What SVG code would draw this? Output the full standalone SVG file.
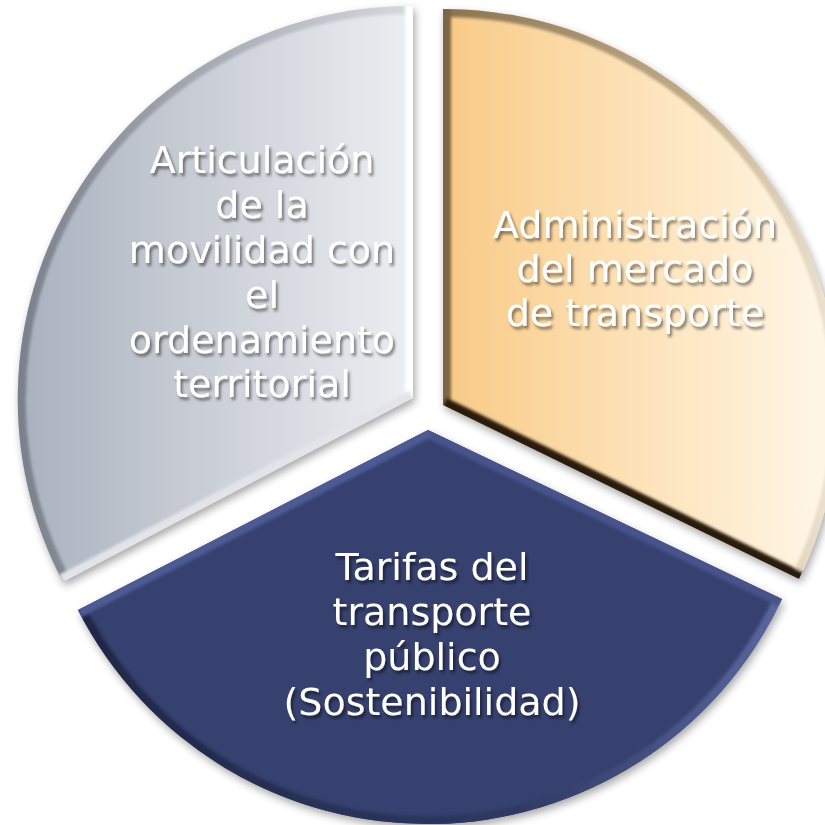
<svg xmlns="http://www.w3.org/2000/svg" width="825" height="825" viewBox="0 0 825 825">
  <defs>
    <linearGradient id="fillGray" gradientUnits="userSpaceOnUse" x1="20" y1="0" x2="413" y2="0">
      <stop offset="0" stop-color="#aab1be"/>
      <stop offset="0.55" stop-color="#cfd3da"/>
      <stop offset="1" stop-color="#eceef1"/>
    </linearGradient>
    <linearGradient id="fillOrange" gradientUnits="userSpaceOnUse" x1="443" y1="0" x2="830" y2="0">
      <stop offset="0" stop-color="#f8ca86"/>
      <stop offset="0.5" stop-color="#fde2b8"/>
      <stop offset="1" stop-color="#fff7e8"/>
    </linearGradient>
    <linearGradient id="bevGrayArc" gradientUnits="userSpaceOnUse" x1="20" y1="0" x2="413" y2="0">
      <stop offset="0" stop-color="#7a808c"/>
      <stop offset="1" stop-color="#d6d9de"/>
    </linearGradient>
    <linearGradient id="bevOrangeArc" gradientUnits="userSpaceOnUse" x1="443" y1="0" x2="840" y2="0">
      <stop offset="0" stop-color="#8a7250"/>
      <stop offset="0.6" stop-color="#bea986"/>
      <stop offset="1" stop-color="#efe6d4"/>
    </linearGradient>
    <linearGradient id="bevBlueArc" gradientUnits="userSpaceOnUse" x1="78" y1="0" x2="800" y2="0">
      <stop offset="0" stop-color="#1f2748"/>
      <stop offset="0.6" stop-color="#2e3862"/>
      <stop offset="1" stop-color="#5d6aa3"/>
    </linearGradient>
    <clipPath id="clipGray"><path d="M 413 398 L 413 6 A 393 393 0 0 0 63 582 Z"/></clipPath>
    <clipPath id="clipOrange"><path d="M 443 405 L 443 9 A 396 396 0 0 1 799 579 Z"/></clipPath>
    <clipPath id="clipBlue"><path d="M 428 430 L 782 599 A 392 392 0 0 1 78 610 Z"/></clipPath>
    <filter id="soft" x="-10%" y="-10%" width="120%" height="120%">
      <feGaussianBlur stdDeviation="1.8"/>
    </filter>
    <filter id="drop" x="-10%" y="-10%" width="120%" height="120%">
      <feGaussianBlur in="SourceAlpha" stdDeviation="4"/>
      <feOffset dx="2" dy="4" result="o"/>
      <feComponentTransfer><feFuncA type="linear" slope="0.35"/></feComponentTransfer>
    </filter>
    <filter id="tshadow" x="-10%" y="-20%" width="120%" height="140%">
      <feGaussianBlur in="SourceAlpha" stdDeviation="1.6"/>
      <feOffset dx="2" dy="2.5" result="b"/>
      <feComponentTransfer result="s"><feFuncA type="linear" slope="0.5"/></feComponentTransfer>
      <feMerge><feMergeNode in="s"/><feMergeNode in="SourceGraphic"/></feMerge>
    </filter>
  </defs>
  <style>
    .lbl { font-family: "DejaVu Sans", "Liberation Sans", sans-serif; font-size: 38px; fill: #ffffff; text-anchor: middle; }
    .bev { fill: none; stroke-width: 16; }
  </style>

  <rect width="825" height="825" fill="#ffffff"/>

  <g id="shadows" filter="url(#drop)">
    <path d="M 413 398 L 413 6 A 393 393 0 0 0 63 582 Z"/>
    <path d="M 443 405 L 443 9 A 396 396 0 0 1 799 579 Z"/>
    <path d="M 428 430 L 782 599 A 392 392 0 0 1 78 610 Z"/>
  </g>

  <g id="slice-articulacion">
    <path d="M 413 398 L 413 6 A 393 393 0 0 0 63 582 Z" fill="url(#fillGray)"/>
    <g clip-path="url(#clipGray)">
      <g filter="url(#soft)">
        <path class="bev" d="M 413 6 A 393 393 0 0 0 63 582" stroke="url(#bevGrayArc)"/>
        <path class="bev" d="M 413 0 L 413 398" stroke="#ffffff"/>
        <path class="bev" d="M 413 398 L 63 582" stroke="#e2e4e8"/>
      </g>
    </g>
    <text class="lbl" filter="url(#tshadow)" x="262" y="173">Articulación</text>
    <text class="lbl" filter="url(#tshadow)" x="262" y="218">de la</text>
    <text class="lbl" filter="url(#tshadow)" x="262" y="263">movilidad con</text>
    <text class="lbl" filter="url(#tshadow)" x="262" y="308">el</text>
    <text class="lbl" filter="url(#tshadow)" x="262" y="353">ordenamiento</text>
    <text class="lbl" filter="url(#tshadow)" x="262" y="397">territorial</text>
  </g>

  <g id="slice-administracion">
    <path d="M 443 405 L 443 9 A 396 396 0 0 1 799 579 Z" fill="url(#fillOrange)"/>
    <g clip-path="url(#clipOrange)">
      <g filter="url(#soft)">
        <path class="bev" d="M 443 9 A 396 396 0 0 1 799 579" stroke="url(#bevOrangeArc)"/>
        <path class="bev" d="M 443 0 L 443 405" stroke="#7d6545"/>
        <path class="bev" d="M 443 405 L 805 582" stroke="#2a1d0b"/>
      </g>
    </g>
    <text class="lbl" filter="url(#tshadow)" x="635" y="238">Administración</text>
    <text class="lbl" filter="url(#tshadow)" x="635" y="282">del mercado</text>
    <text class="lbl" filter="url(#tshadow)" x="635" y="326">de transporte</text>
  </g>

  <g id="slice-tarifas">
    <path d="M 428 430 L 782 599 A 392 392 0 0 1 78 610 Z" fill="#36416f"/>
    <g clip-path="url(#clipBlue)">
      <g filter="url(#soft)">
        <path class="bev" d="M 782 599 A 392 392 0 0 1 78 610" stroke="url(#bevBlueArc)"/>
        <path class="bev" d="M 428 430 L 782 599" stroke="#46528a" stroke-width="10"/>
        <path class="bev" d="M 428 430 L 78 610" stroke="#4d5a94" stroke-width="10"/>
      </g>
    </g>
    <text class="lbl" filter="url(#tshadow)" x="432" y="580">Tarifas del</text>
    <text class="lbl" filter="url(#tshadow)" x="432" y="625">transporte</text>
    <text class="lbl" filter="url(#tshadow)" x="432" y="670">público</text>
    <text class="lbl" filter="url(#tshadow)" x="432" y="715">(Sostenibilidad)</text>
  </g>

  <g id="connectors"/>
</svg>
